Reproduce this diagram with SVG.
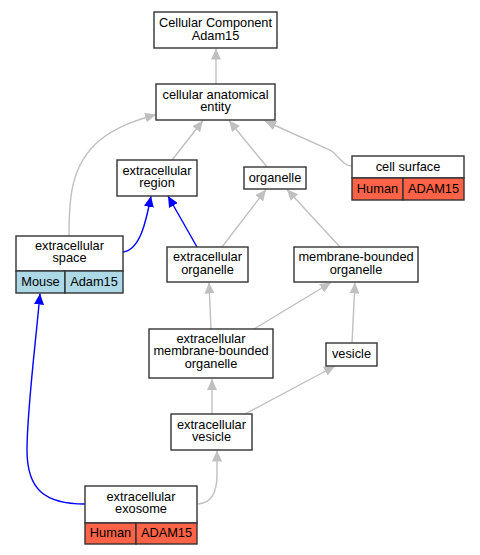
<svg xmlns="http://www.w3.org/2000/svg" width="480" height="555" viewBox="0 0 480 555">
<style>
.box{fill:#fff;stroke:#333;stroke-width:1.4}
.mouse{fill:#add8e6;stroke:#333;stroke-width:1.4}
.human{fill:#ff6347;stroke:#333;stroke-width:1.4}
text{font-family:"Liberation Sans",Arial,sans-serif;font-size:12.8px;fill:#000;text-anchor:middle}
.g{fill:none;stroke:#c0c0c0;stroke-width:1.4}
.b{fill:none;stroke:#0000ff;stroke-width:1.4}
</style>
<defs>
<marker id="ag" markerUnits="userSpaceOnUse" markerWidth="11" markerHeight="10" refX="11" refY="5" orient="auto"><path d="M0,0 L11,5 L0,10 z" fill="#c0c0c0"/></marker>
<marker id="ab" markerUnits="userSpaceOnUse" markerWidth="11" markerHeight="10" refX="11" refY="5" orient="auto"><path d="M0,0 L11,5 L0,10 z" fill="#0000ff"/></marker>
</defs>
<rect width="480" height="555" fill="#fff"/>
<g id="edges">
<path class="g" marker-end="url(#ag)" d="M216,84 L216,48.5"/>
<path class="g" marker-end="url(#ag)" d="M172,160 L203,120.5"/>
<path class="g" marker-end="url(#ag)" d="M267,167 L229,120.5"/>
<path class="g" marker-end="url(#ag)" d="M352,166 C343,166 339,156 330,150 L265,121"/>
<path class="g" marker-end="url(#ag)" d="M69,236 C69,200 70,165 100,140 C115,128 130,122 156,114.5"/>
<path class="b" marker-end="url(#ab)" d="M123,252 C140,250 146,222 151,196"/>
<path class="b" marker-end="url(#ab)" d="M197,247 L168,196"/>
<path class="g" marker-end="url(#ag)" d="M222,247 L266,189.5"/>
<path class="g" marker-end="url(#ag)" d="M340,247 L287,189.5"/>
<path class="g" marker-end="url(#ag)" d="M211,329 L209,282.5"/>
<path class="g" marker-end="url(#ag)" d="M254,329 L331,282.5"/>
<path class="g" marker-end="url(#ag)" d="M352,343 L355,282.5"/>
<path class="g" marker-end="url(#ag)" d="M212,414 L212,379"/>
<path class="g" marker-end="url(#ag)" d="M245,414 L335,366"/>
<path class="g" marker-end="url(#ag)" d="M198,504 C212,503 217,492 217,475 L217,450.5"/>
<path class="b" marker-end="url(#ab)" d="M85,504 C45,504 27,490 27,450 C27,410 36,340 40,293.5"/>
</g>
<g id="cellular_component">
<rect class="box" x="154" y="12" width="123" height="36"/>
<text x="215.5" y="27">Cellular Component</text>
<text x="215.5" y="39.5">Adam15</text>
</g>
<g id="cellular_anatomical_entity">
<rect class="box" x="156" y="84" width="119" height="36"/>
<text x="215.5" y="98.5">cellular anatomical</text>
<text x="215.5" y="111">entity</text>
</g>
<g id="extracellular_region">
<rect class="box" x="117" y="160" width="80" height="36"/>
<text x="157" y="174.5">extracellular</text>
<text x="157" y="187">region</text>
</g>
<g id="organelle">
<rect class="box" x="244" y="167" width="62" height="22"/>
<text x="275" y="182">organelle</text>
</g>
<g id="cell_surface">
<rect class="box" x="352" y="156" width="112" height="22"/>
<rect class="human" x="352" y="178" width="51" height="22"/>
<rect class="human" x="403" y="178" width="61" height="22"/>
<text x="408" y="171">cell surface</text>
<text x="377.5" y="193">Human</text>
<text x="433.5" y="193">ADAM15</text>
</g>
<g id="extracellular_space">
<rect class="box" x="16" y="236" width="107" height="35"/>
<rect class="mouse" x="16" y="271" width="49" height="22"/>
<rect class="mouse" x="65" y="271" width="58" height="22"/>
<text x="69.5" y="249.5">extracellular</text>
<text x="69.5" y="262">space</text>
<text x="40.5" y="286">Mouse</text>
<text x="94" y="286">Adam15</text>
</g>
<g id="extracellular_organelle">
<rect class="box" x="167" y="247" width="81" height="35"/>
<text x="207.5" y="261">extracellular</text>
<text x="207.5" y="273.5">organelle</text>
</g>
<g id="membrane_bounded_organelle">
<rect class="box" x="294" y="247" width="124" height="35"/>
<text x="356" y="261">membrane-bounded</text>
<text x="356" y="273.5">organelle</text>
</g>
<g id="extracellular_membrane_bounded_organelle">
<rect class="box" x="149" y="329" width="124" height="49"/>
<text x="211" y="342.5">extracellular</text>
<text x="211" y="355">membrane-bounded</text>
<text x="211" y="367.5">organelle</text>
</g>
<g id="vesicle">
<rect class="box" x="326" y="343" width="51" height="23"/>
<text x="351.5" y="358">vesicle</text>
</g>
<g id="extracellular_vesicle">
<rect class="box" x="171" y="414" width="81" height="36"/>
<text x="211.5" y="428.5">extracellular</text>
<text x="211.5" y="441">vesicle</text>
</g>
<g id="extracellular_exosome">
<rect class="box" x="85" y="486" width="112" height="37"/>
<rect class="human" x="85" y="523" width="51" height="21"/>
<rect class="human" x="136" y="523" width="61" height="21"/>
<text x="141" y="500.5">extracellular</text>
<text x="141" y="513">exosome</text>
<text x="110.5" y="537">Human</text>
<text x="166.5" y="537">ADAM15</text>
</g>
</svg>
